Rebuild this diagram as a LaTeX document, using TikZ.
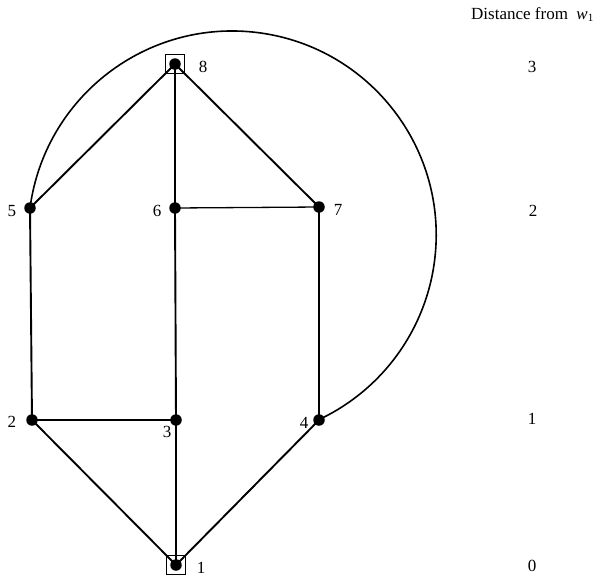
\documentclass[tikz,border=0pt]{standalone}
\usepackage{fontspec}
\setmainfont{Liberation Serif}
\begin{document}
\begin{tikzpicture}[x=1pt,y=-1pt,
 dot/.style={circle,fill=black,inner sep=0pt,minimum size=11.5pt},
 sq/.style={draw,line width=1.4pt,inner sep=0pt,minimum size=19pt},
 lab/.style={font=\fontsize{17}{17}\selectfont,inner sep=0pt},
 edge/.style={line width=1.9pt},
 thinedge/.style={line width=1.3pt}]
\useasboundingbox (0,0) rectangle (611,579);
% vertex positions
\coordinate (v8) at (175,64);
\coordinate (v5) at (30,208);
\coordinate (v6) at (175,208);
\coordinate (v7) at (319,207);
\coordinate (v2) at (32,420);
\coordinate (v3) at (176,420);
\coordinate (v4) at (319,420);
\coordinate (v1) at (176,565);
% edges
\draw[edge] (v8) -- (v5);
\draw[edge] (v8) -- (v6);
\draw[edge] (v8) -- (v7);
\draw[edge] (v5) -- (v2);
\draw[thinedge] (v6) -- (v7);
\draw[edge] (v6) -- (v3);
\draw[edge] (v7) -- (v4);
\draw[thinedge] (v2) -- (v3);
\draw[edge] (v2) -- (v1);
\draw[edge] (v3) -- (v1);
\draw[edge] (v4) -- (v1);
\draw[thinedge,line width=1.6pt] (v5) arc[start angle=187.6, end angle=424.8, radius=204];
% vertices
\node[dot] (n8) at (v8) {};
\node[sq] (s8) at (v8) {};
\node[dot] (n5) at (v5) {};
\node[dot] (n6) at (v6) {};
\node[dot] (n7) at (v7) {};
\node[dot] (n2) at (v2) {};
\node[dot] (n3) at (v3) {};
\node[dot] (n4) at (v4) {};
\node[dot] (n1) at (v1) {};
\node[sq] (s1) at (v1) {};
% vertex labels
\node[lab] (l8) at (203,67) {8};
\node[lab] (l5) at (12,211) {5};
\node[lab] (l6) at (157,211) {6};
\node[lab] (l7) at (338,210) {7};
\node[lab] (l2) at (12,422) {2};
\node[lab] (l3) at (167,432) {3};
\node[lab] (l4) at (304,423) {4};
\node[lab] (l1) at (201,568) {1};
% distance column
\node[lab,anchor=base west] (hd) at (471,19) {Distance from\hspace{0.5em}\textit{w}\raisebox{-0.35ex}{\fontsize{11}{11}\selectfont 1}};
\node[lab] (d3) at (532,67) {3};
\node[lab] (d2) at (533,211) {2};
\node[lab] (d1) at (532,419) {1};
\node[lab] (d0) at (532,566) {0};
\end{tikzpicture}
\end{document}
